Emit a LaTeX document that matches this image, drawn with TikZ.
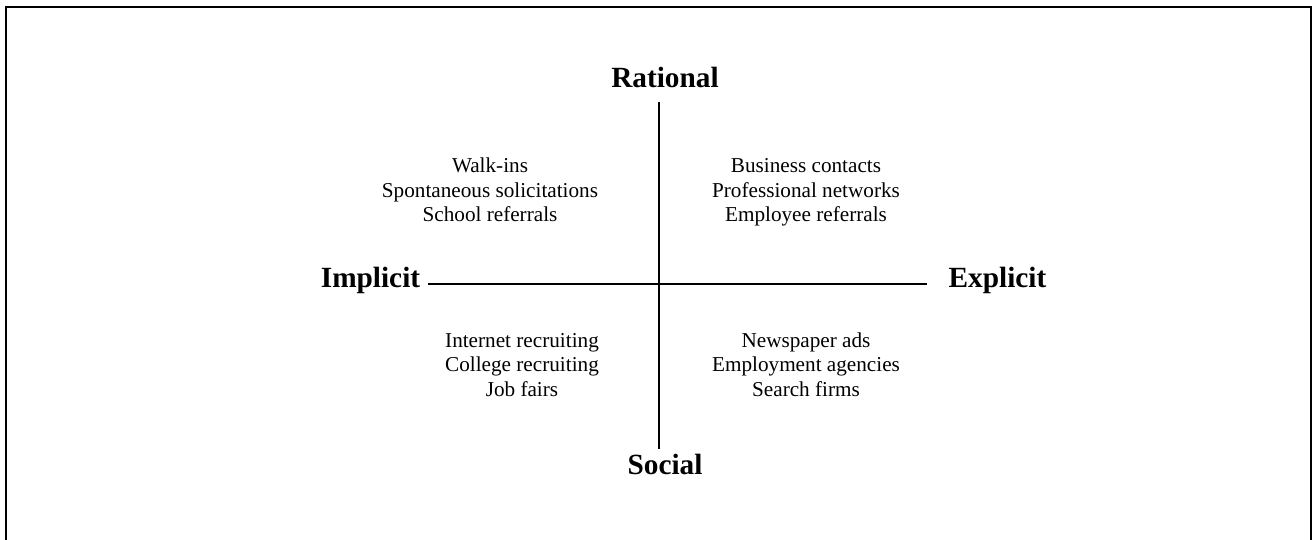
\documentclass[tikz,border=0pt]{standalone}
\usepackage{fontspec}
\setmainfont{Liberation Serif}
\usepackage{xcolor}
\usetikzlibrary{positioning}
\definecolor{inkc}{HTML}{000000}
\tikzset{
  axis/.style={line width=1.5pt,inkc},
  pole/.style={font=\fontsize{29.3}{33}\selectfont\bfseries,inner sep=0pt,anchor=base},
  cell/.style={font=\fontsize{21.2}{24.5}\selectfont,align=center,inner sep=0pt,anchor=base}
}

\begin{document}
\begin{tikzpicture}[x=1pt,y=-1pt]
\useasboundingbox (0,0) rectangle (1313,540);
\draw[line width=2pt,inkc] (6,545) -- (6,7) -- (1311,7) -- (1311,545);
% axes
\coordinate (top) at (659,102);
\coordinate (bot) at (659,449);
\coordinate (lft) at (428,284);
\coordinate (rgt) at (927,284);
\draw[axis] (top) -- (bot);
\draw[axis] (lft) -- (rgt);
% poles
\node[pole] (rat) at (665,88) {Rational};
\node[pole] (soc) at (665,474) {Social};
\node[pole] (imp) at (370.5,287) {Implicit};
\node[pole] (exp) at (997.5,287) {Explicit};
% quadrants (base sits on the last line)
\node[cell] (nw) at (490,221.5) {Walk-ins\\Spontaneous solicitations\\School referrals};
\node[cell] (ne) at (806,221.5) {Business contacts\\Professional networks\\Employee referrals};
\node[cell] (sw) at (522,396) {Internet recruiting\\College recruiting\\Job fairs};
\node[cell] (se) at (806,396) {Newspaper ads\\Employment agencies\\Search firms};
\end{tikzpicture}
\end{document}
